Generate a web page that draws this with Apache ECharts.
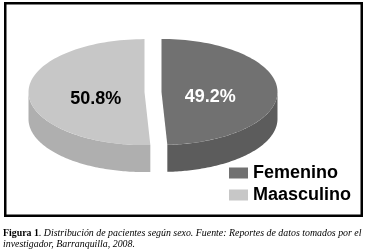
<!DOCTYPE html>
<html>
<head>
<meta charset="utf-8">
<script src="https://cdn.jsdelivr.net/npm/echarts@6/dist/echarts.min.js"></script>
<style>
html,body{margin:0;padding:0;background:#fff;}
#chart{width:366px;height:251px;}
</style>
</head>
<body>
<div id="chart"></div>
<script>
// ---- data ----
const categories = ['Femenino', 'Maasculino'];
const values = [49.2, 50.8];
const labels = ['49.2%', '50.8%'];
const captionBold = 'Figura 1';
const captionLine1 = '. Distribución de pacientes según sexo. Fuente: Reportes de datos tomados por el';
const captionLine2 = 'investigador, Barranquilla, 2008.';

// ---- style ----
const topColors = ['#717171', '#c7c7c7'];
const sideColors = ['#5c5c5c', '#afafaf'];
const labelColors = ['#ffffff', '#000000'];
const CX = 153, CY = 92, RX = 116, RY = 53, DEPTH = 27, EXPLODE = 8.5;
const total = values.reduce((a, b) => a + b, 0);

function renderSlice(params, api) {
  const idx = params.seriesIndex;
  let start = 0;
  for (let i = 0; i < idx; i++) start += values[i];
  const v = api.value(0);
  const a0 = start / total * 2 * Math.PI;
  const a1 = (start + v) / total * 2 * Math.PI;
  const mid = (a0 + a1) / 2;
  const cx = CX + EXPLODE * Math.sin(mid);
  const cy = CY - EXPLODE * (RY / RX) * Math.cos(mid);
  const pt = (a, dy) => [cx + RX * Math.sin(a), cy - RY * Math.cos(a) + (dy || 0)];
  const N = 90;
  const children = [];
  const s0 = Math.max(a0, Math.PI / 2), s1 = Math.min(a1, 3 * Math.PI / 2);
  if (s1 > s0) {
    const side = [];
    for (let k = 0; k <= N; k++) side.push(pt(s0 + (s1 - s0) * k / N));
    for (let k = N; k >= 0; k--) side.push(pt(s0 + (s1 - s0) * k / N, DEPTH));
    children.push({ type: 'polygon', shape: { points: side }, style: { fill: sideColors[idx] } });
  }
  const top = [[cx, cy]];
  for (let k = 0; k <= N; k++) top.push(pt(a0 + (a1 - a0) * k / N));
  children.push({ type: 'polygon', shape: { points: top }, style: { fill: topColors[idx] } });
  const lp = [cx + RX * 0.42 * Math.sin(mid), cy - RY * 0.42 * Math.cos(mid) + 6];
  children.push({
    type: 'text', x: lp[0], y: lp[1],
    style: {
      text: labels[idx], fill: labelColors[idx], align: 'center', verticalAlign: 'middle',
      fontSize: 18, fontWeight: 'bold', fontFamily: 'Liberation Sans'
    }
  });
  return { type: 'group', children: children };
}

const chart = echarts.init(document.getElementById('chart'));
chart.setOption({
  animation: false,
  backgroundColor: '#ffffff',
  legend: {
    data: categories,
    orient: 'vertical',
    left: 229, top: 164, padding: 0,
    itemWidth: 19, itemHeight: 11, itemGap: 4,
    icon: 'rect',
    selectedMode: false,
    textStyle: { fontSize: 18, fontWeight: 'bold', fontFamily: 'Liberation Sans', color: '#000' }
  },
  series: categories.map((name, i) => ({
    type: 'custom',
    name: name,
    coordinateSystem: 'none',
    itemStyle: { color: topColors[i] },
    renderItem: renderSlice,
    data: [[values[i]]]
  })),
  graphic: [
    {
      type: 'rect', shape: { x: 5.25, y: 3.25, width: 356.5, height: 212.5 },
      style: { fill: 'none', stroke: '#000', lineWidth: 2.5 }, silent: true
    },
    {
      type: 'text', left: 3, top: 228,
      style: {
        text: '{b|' + captionBold + '}{i|' + captionLine1 + '}\n{i|' + captionLine2 + '}',
        rich: {
          b: { fontFamily: 'Liberation Serif', fontWeight: 'bold', fontSize: 9.9, lineHeight: 11, fill: '#000' },
          i: { fontFamily: 'Liberation Serif', fontStyle: 'italic', fontSize: 9.9, lineHeight: 11, fill: '#000' }
        }
      }
    }
  ]
});
</script>
</body>
</html>
